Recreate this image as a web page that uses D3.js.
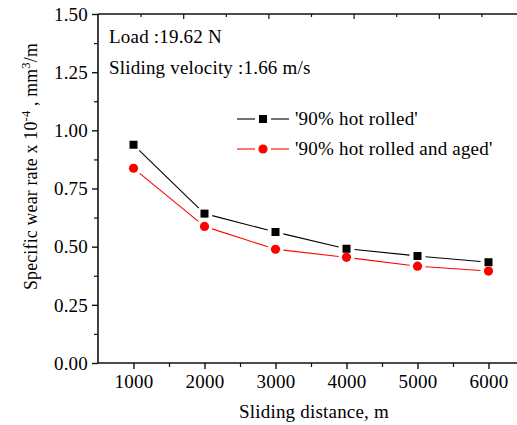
<!DOCTYPE html>
<html>
<head>
<meta charset="utf-8">
<script src="https://cdn.jsdelivr.net/npm/d3@7"></script>
<style>
  body { margin: 0; background: #fff; }
  svg { display: block; }
  svg text { font-family: "Liberation Serif", "Times New Roman", "DejaVu Serif", serif; letter-spacing: 0.2px; }
</style>
</head>
<body>
<div id="chart"></div>
<script>
const distances = [1000, 2000, 3000, 4000, 5000, 6000];
const hotRolled = [0.938, 0.642, 0.563, 0.491, 0.460, 0.433];
const hotRolledAged = [0.837, 0.587, 0.489, 0.454, 0.416, 0.395];
const xTicks = [1000, 2000, 3000, 4000, 5000, 6000];
const yTicks = [0, 0.25, 0.5, 0.75, 1.0, 1.25, 1.5];

const series = [
  { name: "'90% hot rolled'", values: hotRolled, color: "#000", shape: "square" },
  { name: "'90% hot rolled and aged'", values: hotRolledAged, color: "#ff0000", shape: "circle" }
];

const W = 517, H = 425;
const margin = { top: 14, left: 98, bottom: 62 };
const plotBottom = H - margin.bottom;
const fs = 19;

const svg = d3.select("#chart").append("svg")
  .attr("width", W).attr("height", H);

const x = d3.scaleLinear().domain([500, 6500]).range([margin.left, 524]);
const xTop = d3.scaleLinear().domain([0, 10]).range([margin.left, 524]);
const y = d3.scaleLinear().domain([0, 1.5]).range([plotBottom, margin.top]);

const axisColor = "#111";

// frame lines
svg.append("line").attr("x1", margin.left).attr("x2", W)
  .attr("y1", margin.top).attr("y2", margin.top)
  .attr("stroke", axisColor).attr("stroke-width", 1.6);
svg.append("line").attr("x1", margin.left).attr("x2", W)
  .attr("y1", plotBottom).attr("y2", plotBottom)
  .attr("stroke", axisColor).attr("stroke-width", 1.6);
svg.append("line").attr("x1", margin.left).attr("x2", margin.left)
  .attr("y1", margin.top).attr("y2", plotBottom)
  .attr("stroke", axisColor).attr("stroke-width", 1.6);

// bottom axis
const xAxis = svg.append("g").attr("transform", `translate(0,${plotBottom})`)
  .call(d3.axisBottom(x).tickValues(xTicks).tickSize(6).tickFormat(d3.format("d")));
xAxis.select(".domain").remove();
xAxis.selectAll(".tick line").attr("stroke", axisColor).attr("stroke-width", 1.4);
xAxis.selectAll("text").attr("font-size", fs).attr("fill", "#000")
  .attr("font-family", null).attr("dy", null).attr("y", 25);

const xMinor = svg.append("g").attr("transform", `translate(0,${plotBottom})`)
  .call(d3.axisBottom(x).tickValues([1500, 2500, 3500, 4500, 5500]).tickSize(4).tickFormat(""));
xMinor.select(".domain").remove();
xMinor.selectAll(".tick line").attr("stroke", axisColor).attr("stroke-width", 1.2);

// top axis ticks (inward)
const topAxis = svg.append("g").attr("transform", `translate(0,${margin.top})`)
  .call(d3.axisBottom(xTop).tickValues(d3.range(1, 10)).tickSizeOuter(0)
    .tickSize(4).tickFormat(""));
topAxis.select(".domain").remove();
topAxis.selectAll(".tick line")
  .attr("y2", d => d % 2 === 0 ? 5 : 3)
  .attr("stroke", axisColor).attr("stroke-width", 1.2);

// left axis
const yAxis = svg.append("g").attr("transform", `translate(${margin.left},0)`)
  .call(d3.axisLeft(y).tickValues(yTicks).tickSize(6).tickFormat(d3.format(".2f")));
yAxis.select(".domain").remove();
yAxis.selectAll(".tick line").attr("stroke", axisColor).attr("stroke-width", 1.4);
yAxis.selectAll("text").attr("font-size", fs).attr("fill", "#000")
  .attr("font-family", null).attr("x", -10).attr("dy", "0.33em");

const yMinor = svg.append("g").attr("transform", `translate(${margin.left},0)`)
  .call(d3.axisLeft(y).tickValues([0.125, 0.375, 0.625, 0.875, 1.125, 1.375]).tickSize(4).tickFormat(""));
yMinor.select(".domain").remove();
yMinor.selectAll(".tick line").attr("stroke", axisColor).attr("stroke-width", 1.2);

// axis titles
svg.append("text")
  .attr("x", (x(1000) + x(6000)) / 2 + 3).attr("y", 418)
  .attr("text-anchor", "middle").attr("font-size", fs)
  .text("Sliding distance, m");

const yl = svg.append("text")
  .attr("transform", "rotate(-90)")
  .attr("x", -290).attr("y", 37)
  .attr("font-size", 17.8);
yl.append("tspan").text("Specific wear rate x 10");
yl.append("tspan").attr("baseline-shift", "super").attr("font-size", 12.5).text("-4");
yl.append("tspan").text(" , mm");
yl.append("tspan").attr("baseline-shift", "super").attr("font-size", 12.5).text("3");
yl.append("tspan").text("/m");

// annotations
svg.append("text").attr("x", 109).attr("y", 43).attr("font-size", fs)
  .text("Load :19.62 N");
svg.append("text").attr("x", 109).attr("y", 74).attr("font-size", fs)
  .text("Sliding velocity :1.66 m/s");

// data lines with gaps around markers (Origin style)
const gap = 8;
series.forEach(s => {
  const pts = distances.map((d, i) => [x(d), y(s.values[i])]);
  const segs = d3.pairs(pts).map(([a, b]) => {
    const dx = b[0] - a[0], dy = b[1] - a[1];
    const len = Math.hypot(dx, dy);
    const ux = dx / len, uy = dy / len;
    return [a[0] + ux * gap, a[1] + uy * gap, b[0] - ux * gap, b[1] - uy * gap];
  });
  svg.append("g").selectAll("line").data(segs).enter().append("line")
    .attr("x1", d => d[0]).attr("y1", d => d[1])
    .attr("x2", d => d[2]).attr("y2", d => d[3])
    .attr("stroke", s.color).attr("stroke-width", 1.1);

  const g = svg.append("g");
  if (s.shape === "square") {
    g.selectAll("rect").data(s.values).enter().append("rect")
      .attr("x", (v, i) => x(distances[i]) - 4)
      .attr("y", v => y(v) - 4)
      .attr("width", 8).attr("height", 8)
      .attr("fill", s.color);
  } else {
    g.selectAll("circle").data(s.values).enter().append("circle")
      .attr("cx", (v, i) => x(distances[i]))
      .attr("cy", v => y(v))
      .attr("r", 4.6)
      .attr("fill", s.color);
  }
});

// legend
const legendY = [119, 149];
series.forEach((s, i) => {
  const ly = legendY[i];
  const lg = svg.append("g");
  lg.append("line").attr("x1", 237).attr("x2", 255).attr("y1", ly).attr("y2", ly)
    .attr("stroke", s.color).attr("stroke-width", 1.1);
  lg.append("line").attr("x1", 271).attr("x2", 289).attr("y1", ly).attr("y2", ly)
    .attr("stroke", s.color).attr("stroke-width", 1.1);
  if (s.shape === "square") {
    lg.append("rect").attr("x", 259).attr("y", ly - 4).attr("width", 8).attr("height", 8)
      .attr("fill", s.color);
  } else {
    lg.append("circle").attr("cx", 263).attr("cy", ly).attr("r", 4.6).attr("fill", s.color);
  }
  lg.append("text").attr("x", 295).attr("y", ly + 6).attr("font-size", fs)
    .text(s.name);
});
</script>
</body>
</html>
